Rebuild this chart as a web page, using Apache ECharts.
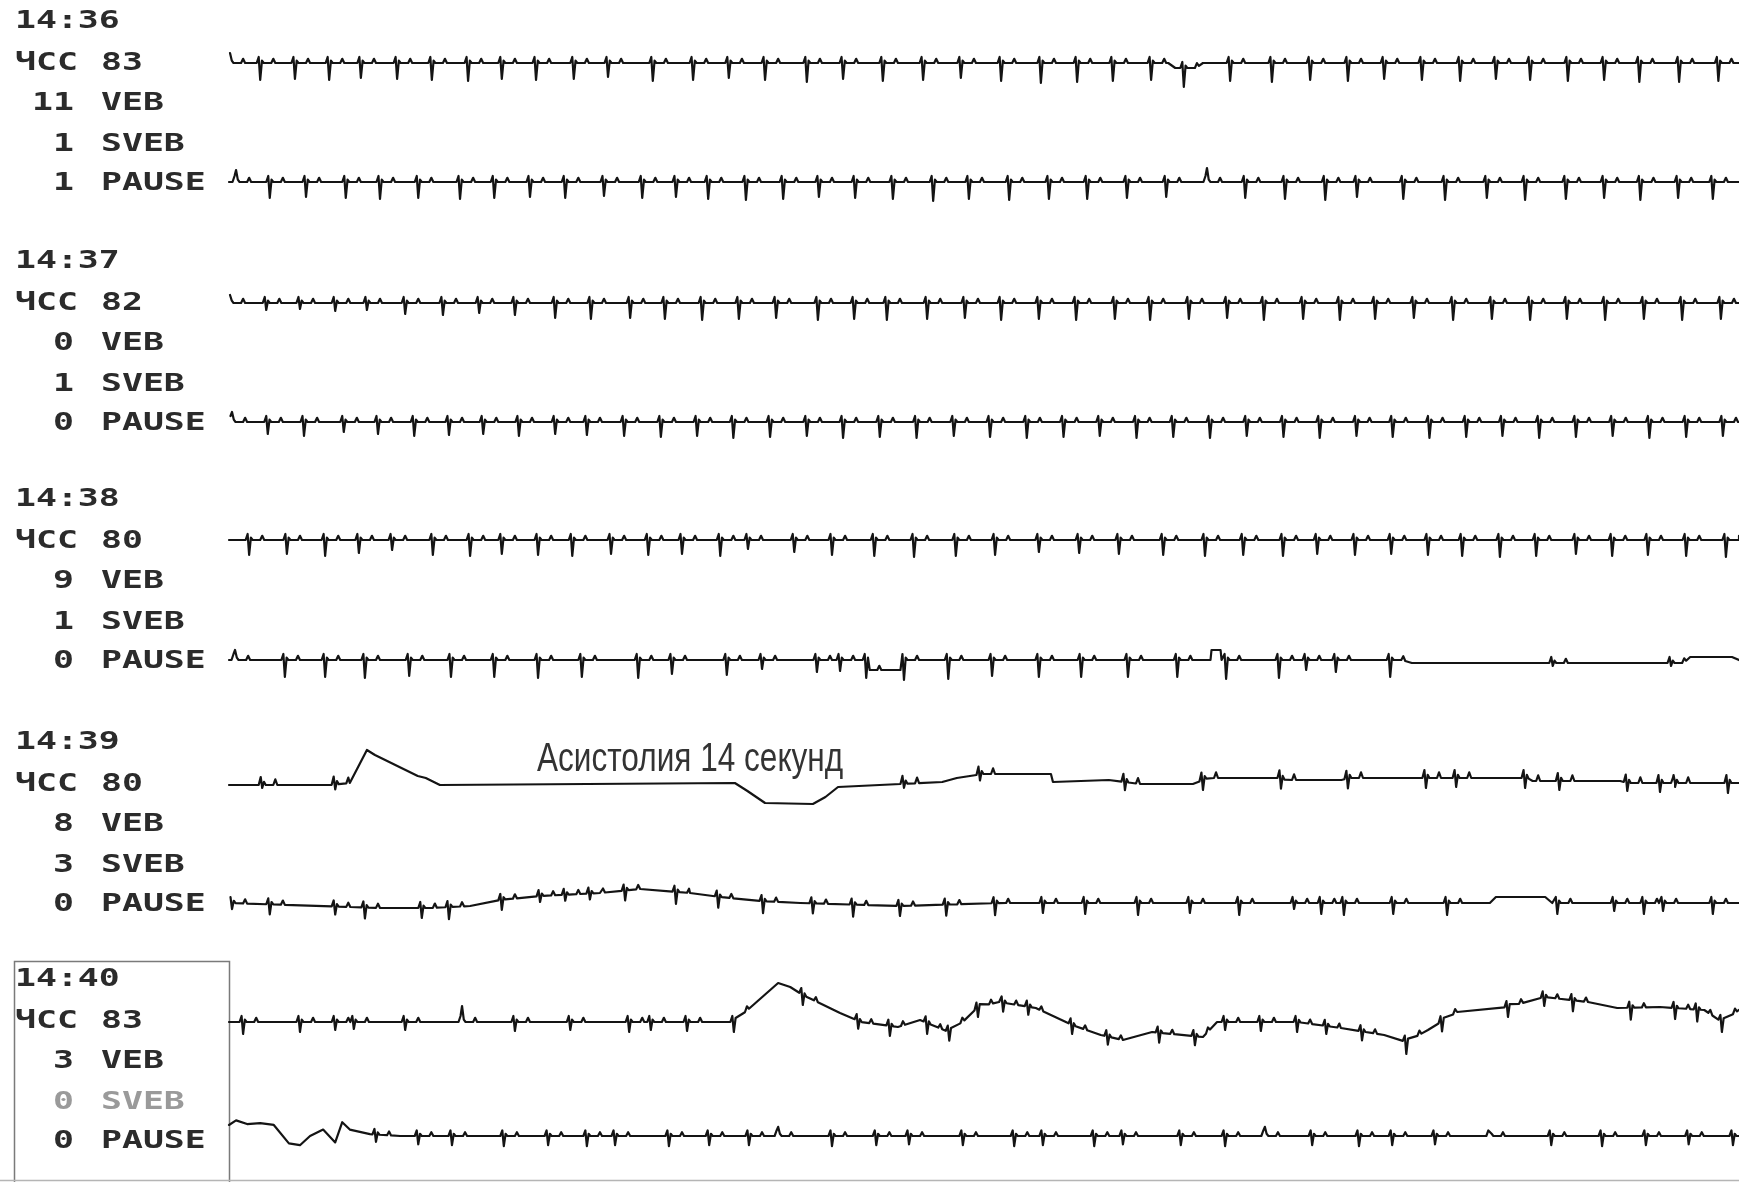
<!DOCTYPE html>
<html><head><meta charset="utf-8">
<script src="https://cdn.jsdelivr.net/npm/echarts@6/dist/echarts.min.js"></script>
<style>html,body{margin:0;padding:0;background:#fff}#c{width:1739px;height:1182px}</style>
</head><body><div id="c"></div>
<script>
// ---- label data ----
const stripTimes = ['14:36', '14:37', '14:38', '14:39', '14:40'];
const hrValues = [83, 82, 80, 80, 83];
const vebCounts = [11, 0, 9, 8, 3];
const svebCounts = [1, 1, 1, 3, 0];
const pauseCounts = [1, 0, 0, 0, 0];
const asystoleNote = 'Асистолия 14 секунд';

// ---- beat times (s) and main-deflection depths (mV, negative = upward) ----
const t1Beats = [0.02,0.62,1.31,1.99,2.62,3.34,4.03,4.75,5.42,6.10,6.85,7.53,8.42,9.22,9.93,10.65,11.48,12.20,12.99,13.79,14.54,15.34,16.13,16.85,17.56,18.32,18.97,19.89,20.72,21.48,22.23,22.95,23.70,24.46,25.17,25.85,26.60,27.32,28.02,28.81,29.59];
const t1Depths = [-0.5,0.85,0.8,0.85,0.75,0.8,0.85,0.9,0.8,0.85,0.8,0.7,0.9,0.85,0.75,0.85,0.95,0.8,0.9,0.85,0.75,0.9,1.0,0.95,0.9,0.85,0.95,0.9,0.95,0.85,0.9,0.8,0.85,0.9,0.8,0.85,0.9,0.85,0.95,0.95,0.9];
const t1Drift = [[0,0],[18.66,0],[18.80,-0.25],[19.21,-0.25],[19.35,0],[30,0]];

const t2Beats = [0.14,0.81,1.53,2.32,3.00,3.76,4.59,5.27,5.98,6.68,7.45,8.21,8.88,9.52,10.27,11.01,11.72,12.44,13.19,13.99,14.70,15.50,16.29,17.05,17.84,18.62,19.43,20.19,20.98,21.78,22.41,23.33,24.16,24.99,25.75,26.56,27.32,28.04,28.79,29.48];
const t2Depths = [-0.6,0.8,0.75,0.8,0.85,0.8,0.85,0.8,0.75,0.8,0.7,0.8,0.75,0.85,0.9,0.85,0.75,0.8,0.85,0.95,0.85,0.9,0.85,0.85,0.8,0.75,-0.7,0.8,0.85,0.9,0.75,0.85,0.9,0.8,0.9,0.85,0.8,0.9,0.8,0.85];
const t2Drift = [];

const t3Beats = [0.02,0.74,1.41,2.11,2.74,3.50,4.25,4.97,5.68,6.48,7.19,7.97,8.66,9.40,10.13,10.87,11.70,12.42,13.07,13.87,14.62,15.34,16.09,16.83,17.60,18.30,19.07,19.83,20.56,21.34,22.07,22.77,23.54,24.32,25.09,25.85,26.58,27.34,28.11,28.87,29.64];
const t3Depths = [-0.4,0.35,0.3,0.4,0.35,0.55,0.6,0.5,0.6,0.75,0.8,0.75,0.8,0.85,0.8,0.75,0.85,0.8,0.85,0.8,0.75,0.85,0.8,0.85,0.8,0.85,0.8,0.75,0.85,0.8,0.85,0.8,0.75,0.85,0.8,0.85,0.8,0.85,0.8,0.85,0.8];
const t3Drift = [];

const t4Beats = [0.06,0.77,1.49,2.28,2.96,3.68,4.37,5.05,5.76,6.48,7.11,7.85,8.58,9.30,10.02,10.75,11.48,12.20,12.93,13.66,14.40,15.12,15.85,16.58,17.30,18.03,18.76,19.49,20.22,20.95,21.67,22.40,23.12,23.85,24.58,25.30,26.03,26.76,27.49,28.22,28.95,29.68];
const t4Depths = [-0.5,0.6,0.7,0.5,0.6,0.7,0.65,0.6,0.7,0.6,0.65,0.7,0.75,0.7,0.8,0.75,0.7,0.8,0.75,0.8,0.7,0.75,0.8,0.75,0.7,0.8,0.75,0.8,0.7,0.75,0.8,0.7,0.75,0.8,0.75,0.7,0.8,0.75,0.7,0.8,0.75,0.7];
const t4Drift = [];

const t5Beats = [0.40,1.15,1.91,2.58,3.24,4.05,4.79,5.42,6.14,6.82,7.59,8.33,9.00,9.76,10.31,11.23,11.98,12.82,13.61,14.44,15.22,16.09,16.89,17.68,18.56,19.39,20.15,20.94,21.62,22.37,23.09,23.82,24.50,25.25,25.97,26.76,27.48,28.19,28.95,29.74];
const t5Depths = [0.75,0.7,0.8,0.65,0.5,0.75,0.8,0.7,0.75,0.8,0.7,0.75,0.7,0.8,0.45,0.6,0.75,0.8,0.85,0.8,0.75,0.6,0.65,0.7,0.75,0.8,0.75,0.8,0.7,0.75,0.7,0.75,0.8,0.85,0.8,0.7,0.8,0.75,0.8,0.85];
const t5Drift = [];

const t6Beats = [0.12,1.11,1.91,2.70,3.58,4.41,5.27,6.14,7.01,8.13,8.80,9.89,10.59,11.68,12.14,12.66,13.41,14.29,15.16,16.09,16.93,17.86,18.84,19.81,20.86,21.40,21.99,23.07,26.30,28.65];
const t6Depths = [-0.5,0.85,0.85,0.9,0.8,0.85,0.85,0.9,0.85,0.9,0.7,0.75,0.45,0.6,0.55,0.9,1.0,0.95,0.8,0.85,0.85,0.85,0.85,0.95,0.9,0.5,0.6,0.85,0.15,0.15];
const t6Drift = [[0,0],[12.70,0],[12.72,-0.5],[13.35,-0.5],[13.38,0],[19.50,0],[19.52,0.5],[19.70,0.5],[19.72,0],[23.30,0],[23.50,-0.15],[28.90,-0.15],[29.03,0.15],[29.86,0.15],[30,0]];

const t7Beats = [0.66,2.11,13.41,14.92,17.80,19.35,20.90,22.23,23.78,24.38,25.75,26.43,27.78,28.43,28.73,29.78];
const t7Depths = [0.15,0.25,0.2,0.3,0.4,0.5,0.5,0.5,0.5,0.45,0.5,0.45,0.4,0.45,0.2,0.5];
const t7Drift = [[0,0],[2.00,0],[2.40,0.1],[2.74,1.75],[2.90,1.5],[3.75,0.45],[3.91,0.35],[4.19,0],[10.05,0.1],[10.30,-0.3],[10.65,-0.9],[11.60,-0.95],[11.85,-0.6],[12.10,-0.1],[14.17,0.15],[14.46,0.35],[14.98,0.55],[16.33,0.55],[16.37,0.15],[17.48,0.25],[18.10,0.05],[19.15,0.05],[19.45,0.35],[20.85,0.35],[21.00,0.25],[22.10,0.25],[22.27,0.35],[25.80,0.35],[25.90,0.2],[27.64,0.2],[27.78,0.1],[30,0.1]];

const t8Beats = [0.06,0.81,2.11,2.70,3.83,4.37,5.42,6.18,6.68,7.17,7.87,8.88,9.72,10.61,11.60,12.40,13.33,14.25,15.22,16.17,17.01,18.06,19.09,20.07,21.16,21.70,22.15,23.13,24.20,26.39,27.52,28.11,28.49,29.48];
const t8Depths = [0.3,0.5,0.4,0.55,0.5,0.6,0.5,0.3,0.3,0.3,0.5,0.6,0.55,0.6,0.5,0.6,0.5,0.55,0.6,0.5,0.55,0.6,0.5,0.6,0.3,0.55,0.6,0.55,0.6,0.55,0.4,0.55,0.4,0.55];
const t8Drift = [[0,0],[3.00,-0.25],[3.99,-0.25],[4.79,-0.15],[5.38,0.15],[6.18,0.35],[7.37,0.5],[8.17,0.7],[9.16,0.5],[9.76,0.3],[10.55,0.1],[11.35,0],[13.33,-0.15],[15.32,0],[25.05,0],[25.17,0.3],[26.15,0.3],[26.29,0],[30,0]];

const t9Beats = [0.28,1.41,2.11,2.48,3.50,4.63,5.68,6.78,7.95,8.38,9.10,10.03,11.40,12.50,13.13,13.87,14.31,14.88,15.38,15.88,16.75,17.46,18.48,19.19,19.79,20.50,21.22,21.80,22.51,23.39,24.10,25.41,26.13,26.70,27.85,28.73,29.17,29.66];
const t9Depths = [0.6,0.5,0.4,0.35,0.4,-0.8,0.45,0.4,0.5,0.4,0.45,0.5,0.5,0.4,0.5,0.55,0.45,0.5,0.45,0.4,0.45,0.4,0.5,0.45,0.4,0.45,0.5,0.4,0.45,0.6,0.5,0.5,0.45,0.55,0.6,0.55,0.6,0.5];
const t9Drift = [[0,-0.1],[7.37,-0.1],[10.03,-0.1],[10.91,1.85],[11.15,1.65],[11.40,1.25],[12.14,0.35],[12.56,-0.1],[13.29,-0.35],[13.73,0],[14.30,-0.6],[14.62,0],[14.88,0.65],[15.30,0.9],[16.03,0.6],[16.75,-0.25],[17.32,-0.75],[17.76,-1.0],[18.34,-0.6],[19.35,-0.85],[19.63,-0.1],[21.22,-0.1],[22.09,-0.4],[22.95,-0.75],[23.39,-1.1],[23.82,-0.5],[24.40,0.4],[25.41,0.65],[26.13,1.15],[27.00,0.9],[27.58,0.6],[28.43,0.65],[29.31,0.5],[29.66,-0.1],[30,0.5]];

const t10Beats = [2.92,3.76,4.43,5.46,6.34,7.11,7.67,8.74,9.54,10.33,10.91,11.98,12.86,13.51,14.58,15.60,16.17,17.19,17.76,18.91,19.79,20.58,21.52,22.45,23.11,23.96,25.05,26.27,27.28,28.15,29.00,29.88];
const t10Depths = [0.4,0.45,0.5,0.55,0.5,0.55,0.5,0.55,0.5,0.5,-0.5,0.55,0.5,0.45,0.5,0.55,0.5,0.55,0.45,0.5,0.55,-0.5,0.5,0.55,0.5,0.45,-0.4,0.5,0.55,0.5,0.45,0.5];
const t10Drift = [[0,0.6],[0.14,0.85],[0.36,0.65],[0.62,0.7],[0.89,0.6],[1.19,-0.4],[1.41,-0.5],[1.61,0],[1.87,0.35],[2.11,-0.35],[2.25,0.75],[2.40,0.35],[2.80,0.1],[3.40,0],[30,0]];

// ---- beat template (shape of one complex, seconds) ----
const qrsOffsets = [-0.07, -0.03, 0, 0.035, 0.07, 0.22, 0.26, 0.30];

const traceData = [
  [t1Beats, t1Depths, t1Drift, 0.3], [t2Beats, t2Depths, t2Drift, 0.3],
  [t3Beats, t3Depths, t3Drift, 0.3], [t4Beats, t4Depths, t4Drift, 0.3],
  [t5Beats, t5Depths, t5Drift, 0.3], [t6Beats, t6Depths, t6Drift, 0.3],
  [t7Beats, t7Depths, t7Drift, 0.4], [t8Beats, t8Depths, t8Drift, 0.3],
  [t9Beats, t9Depths, t9Drift, 0.3], [t10Beats, t10Depths, t10Drift, 0.3]
];
const traceBaselines = [63, 182, 303, 422, 540, 660, 785, 903, 1020, 1140];
const secondLineY = [182, 422, 660, 903, 1140];

function levelAt(drift, t) {
  if (!drift.length) return 0;
  if (t <= drift[0][0]) return drift[0][1];
  for (let i = 1; i < drift.length; i++) {
    if (t <= drift[i][0]) {
      const a = drift[i - 1], b = drift[i];
      const f = (t - a[0]) / (b[0] - a[0] || 1);
      return a[1] + f * (b[1] - a[1]);
    }
  }
  return drift[drift.length - 1][1];
}
function qrsValue(k, depth, up) {
  return [0, up, -depth, up * 0.4, 0, 0, up * 0.7, 0][k];
}
function buildTrace(beats, depths, drift, up) {
  const pts = [];
  const base = drift.length ? drift : [[0, 0], [30, 0]];
  base.forEach(p => {
    const inBeat = beats.some(b => p[0] > b - 0.075 && p[0] < b + 0.075);
    if (!inBeat) pts.push([p[0], p[1]]);
  });
  beats.forEach((b, i) => {
    qrsOffsets.forEach((o, k) => {
      const t = b + o;
      if (t < 0 || t > 30) return;
      pts.push([t, levelAt(base, t) + qrsValue(k, depths[i], up)]);
    });
  });
  pts.sort((a, b) => a[0] - b[0]);
  return pts;
}

const grids = [], xAxes = [], yAxes = [], series = [];
traceData.forEach((td, i) => {
  grids.push({ left: 229, right: 0, top: traceBaselines[i] - 50, height: 100 });
  xAxes.push({ type: 'value', gridIndex: i, min: 0, max: 30, show: false });
  yAxes.push({ type: 'value', gridIndex: i, min: -2.5, max: 2.5, show: false });
  series.push({
    type: 'line', xAxisIndex: i, yAxisIndex: i, showSymbol: false, symbol: 'none',
    data: buildTrace(td[0], td[1], td[2], td[3]),
    lineStyle: { color: '#141414', width: 2.2, join: 'round', cap: 'round' }, silent: true
  });
});

const labelFont = 'bold 24px "DejaVu Sans Mono", monospace';
const graphics = [];
function lbl(text, x, y, align, color) {
  graphics.push({
    type: 'text', x: x, y: y, scaleX: 1.45, silent: true,
    style: { text: String(text), font: labelFont, fill: color || '#2b2b2b',
      align: align, textAlign: align, verticalAlign: 'middle', textVerticalAlign: 'middle' }
  });
}
stripTimes.forEach((tm, r) => {
  const b2 = secondLineY[r];
  lbl(tm, 15, b2 - 160, 'left');
  lbl('ЧСС', 15, b2 - 118, 'left');
  lbl(hrValues[r], 101, b2 - 118, 'left');
  lbl(vebCounts[r], 74, b2 - 78, 'right');
  lbl('VEB', 101, b2 - 78, 'left');
  lbl(svebCounts[r], 74, b2 - 37, 'right', r === 4 ? '#9a9a9a' : null);
  lbl('SVEB', 101, b2 - 37, 'left', r === 4 ? '#9a9a9a' : null);
  lbl(pauseCounts[r], 74, b2 + 2, 'right');
  lbl('PAUSE', 101, b2 + 2, 'left');
});
graphics.push({
  type: 'text', x: 537, y: 760, scaleX: 0.77, silent: true,
  style: { text: asystoleNote, font: '41px "Liberation Sans", Arial, sans-serif', fill: '#333333',
    verticalAlign: 'middle', textVerticalAlign: 'middle' }
});
graphics.push({
  type: 'rect', silent: true, shape: { x: 14.5, y: 961.5, width: 215, height: 230 },
  style: { fill: 'none', stroke: '#7a7a7a', lineWidth: 1.5 }
});
graphics.push({
  type: 'line', silent: true, shape: { x1: 0, y1: 1180.5, x2: 1739, y2: 1180.5 },
  style: { stroke: '#b5b5b5', lineWidth: 1.5 }
});

const chart = echarts.init(document.getElementById('c'), null, { renderer: 'canvas' });
chart.setOption({
  animation: false, backgroundColor: '#ffffff',
  grid: grids, xAxis: xAxes, yAxis: yAxes, series: series, graphic: graphics
});
</script></body></html>
